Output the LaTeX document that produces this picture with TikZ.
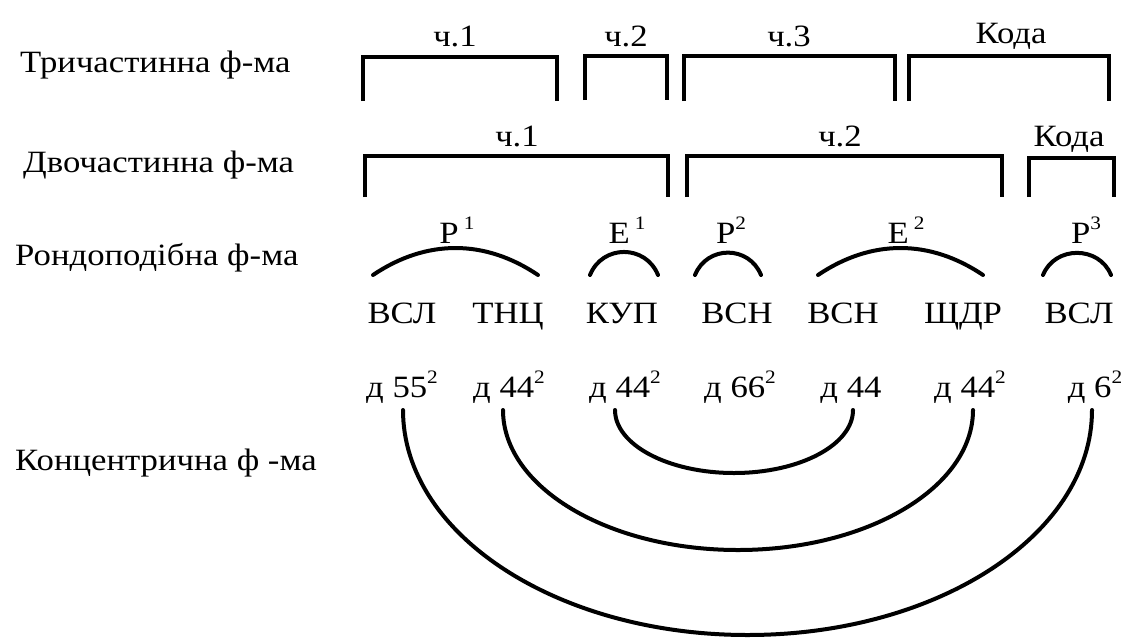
\documentclass[tikz,border=0pt]{standalone}
\usepackage{fontspec}
\setmainfont{Liberation Serif}[FakeStretch=1.12]
\newcommand{\sups}[1]{\raisebox{0.42em}{\fontsize{19}{19}\selectfont #1}}
\begin{document}
\begin{tikzpicture}[x=1pt,y=1pt,
  txt/.style={inner sep=0pt, anchor=base, font=\fontsize{31}{37}\selectfont},
  side/.style={inner sep=0pt, anchor=base west, font=\fontsize{31}{37}\selectfont},
  brk/.style={line width=4.5pt, line cap=butt, line join=miter},
  arcst/.style={line width=4pt, line cap=round}]
\useasboundingbox (0,0) rectangle (1126,-637);

% left labels
\node[side] (l1) at (20,-72) {Тричастинна ф-ма};
\node[side] (l2) at (23,-172) {Двочастинна ф-ма};
\node[side] (l3) at (15,-265) {Рондоподібна ф-ма};
\node[side] (l4) at (15,-470) {Концентрична ф -ма};

% row 1 brackets
\draw[brk] (363,-101) |- (557,-57) -- (557,-101);
\draw[brk] (585,-100) |- (667,-56) -- (667,-100);
\draw[brk] (684,-101) |- (895,-56) -- (895,-101);
\draw[brk] (909,-101) |- (1109,-56) -- (1109,-101);
\node[txt] (t1) at (455,-46) {ч.1};
\node[txt] (t2) at (626,-46) {ч.2};
\node[txt] (t3) at (789,-46) {ч.3};
\node[txt] (t4) at (1011,-43) {Кода};

% row 2 brackets
\draw[brk] (365,-197) |- (668,-156) -- (668,-197);
\draw[brk] (687,-197) |- (1002,-156) -- (1002,-197);
\draw[brk] (1029,-197) |- (1114,-158) -- (1114,-197);
\node[txt] (d1) at (517,-146) {ч.1};
\node[txt] (d2) at (840,-146) {ч.2};
\node[txt] (d3) at (1069,-146) {Кода};

% row 3 arcs and labels
\coordinate (p1a) at (373,-275); \coordinate (p1b) at (538,-275);
\coordinate (e1a) at (590,-275); \coordinate (e1b) at (658,-275);
\coordinate (p2a) at (695,-275); \coordinate (p2b) at (761,-275);
\coordinate (e2a) at (818,-275); \coordinate (e2b) at (983,-275);
\coordinate (p3a) at (1043,-275); \coordinate (p3b) at (1111,-275);
\draw[arcst] (p1a) to[bend left=34] (p1b);
\draw[arcst] (e1a) to[bend left=68, looseness=1.25] (e1b);
\draw[arcst] (p2a) to[bend left=68, looseness=1.25] (p2b);
\draw[arcst] (e2a) to[bend left=34] (e2b);
\draw[arcst] (p3a) to[bend left=68, looseness=1.2] (p3b);
\node[txt] (r1) at (457,-243) {Р\,\sups{1}};
\node[txt] (r2) at (627,-243) {Е\,\sups{1}};
\node[txt] (r3) at (731,-243) {Р\sups{2}};
\node[txt] (r4) at (906,-243) {Е\,\sups{2}};
\node[txt] (r5) at (1086,-243) {Р\sups{3}};

% row 4 texts
\node[txt] (w1) at (402,-323) {ВСЛ};
\node[txt] (w2) at (508,-323) {ТНЦ};
\node[txt] (w3) at (622,-323) {КУП};
\node[txt] (w4) at (737,-323) {ВСН};
\node[txt] (w5) at (843,-323) {ВСН};
\node[txt] (w6) at (963,-323) {ЩДР};
\node[txt] (w7) at (1079,-323) {ВСЛ};

% row 5 texts
\node[txt] (k1) at (402,-397) {д 55\sups{2}};
\node[txt] (k2) at (509,-397) {д 44\sups{2}};
\node[txt] (k3) at (625,-397) {д 44\sups{2}};
\node[txt] (k4) at (740,-397) {д 66\sups{2}};
\node[txt] (k5) at (851,-397) {д 44};
\node[txt] (k6) at (970,-397) {д 44\sups{2}};
\node[txt] (k7) at (1095,-397) {д 6\sups{2}};

% concentric arcs
\coordinate (c1) at (615,-410);
\coordinate (c2) at (503,-410);
\coordinate (c3) at (403,-410);
\draw[arcst] (c1) arc[start angle=180, end angle=360, x radius=119, y radius=63];
\draw[arcst] (c2) arc[start angle=180, end angle=360, x radius=235, y radius=140];
\draw[arcst] (c3) arc[start angle=180, end angle=360, x radius=344.5, y radius=225];
\end{tikzpicture}
\end{document}
